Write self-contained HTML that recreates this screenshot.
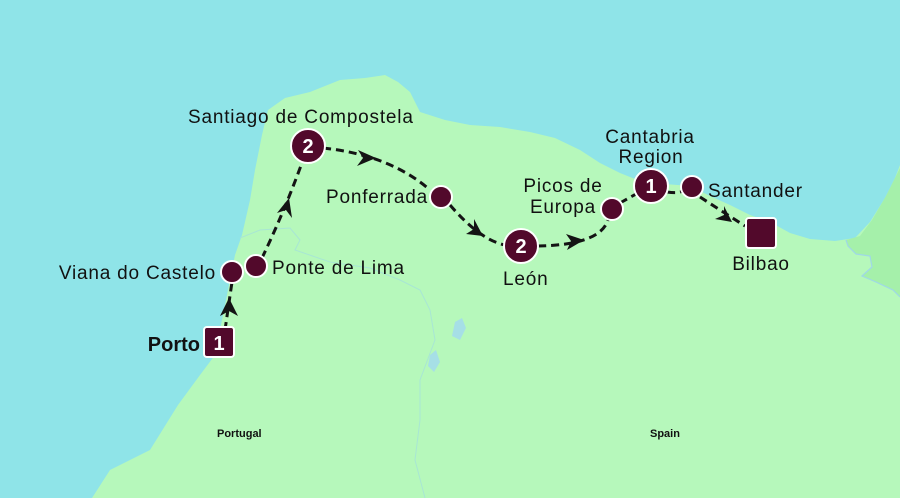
<!DOCTYPE html>
<html><head><meta charset="utf-8"><style>
html,body{margin:0;padding:0;width:900px;height:498px;overflow:hidden;background:#8fe4e8}
svg{display:block}
text{font-family:"Liberation Sans",sans-serif;fill:#111}
</style></head><body>
<svg width="900" height="498" viewBox="0 0 900 498" xmlns="http://www.w3.org/2000/svg">
<rect width="900" height="498" fill="#8fe4e8"/>
<path fill="#b6f8bb" d="M92 498 L110 470 L150 450 L178 405 L200 375 L215 355 L222 320 L228 290 L235 255 L242 235 L250 200 L255 170 L262 135 L268 110 L285 98 L310 92 L340 80 L365 78 L385 75 L398 82 L410 92 L420 112 L445 120 L470 125 L500 127 L530 132 L555 138 L580 150 L600 163 L620 173 L640 181 L665 184 L690 186 L710 196 L730 205 L750 215 L770 222 L790 233 L810 239 L835 241 L855 238 L870 222 L885 198 L895 178 L900 165 L900 498 Z"/>
<path fill="#a5f0aa" d="M846 240 L860 236 L872 220 L886 196 L900 168 L900 297 L893 290 L876 282 L862 276 L872 267 L870 256 L856 254 L848 246 Z"/>
<path fill="none" stroke="#9fd8e6" stroke-width="1.2" d="M846 240 L848 246 L856 254 L870 256 L872 267 L862 276 L876 282 L893 290 L900 297"/>
<path fill="none" stroke="#a8e6d4" stroke-width="1" d="M240 238 L260 230 L290 228 L300 240 L295 250 L330 262 L350 265 L370 268 L400 280 L420 290 L430 310 L435 340 L420 380 L420 420 L415 460 L425 498"/>
<path fill="#a6dfe6" d="M455 322 L462 318 L466 328 L460 340 L452 336 Z M430 355 L436 350 L440 362 L434 372 L428 366 Z"/>
<g fill="none" stroke="#141414" stroke-width="3" stroke-dasharray="8 5" stroke-linecap="butt">
<path d="M225 330 L232 282"/>
<path d="M262 258 Q285 210 303 160"/>
<path d="M323 148 Q390 155 430 190"/>
<path d="M450 205 Q480 240 505 245"/>
<path d="M538 246 Q600 245 608 220"/>
<path d="M620 203 L636 194"/>
<path d="M667 192 Q680 194 684 190"/>
<path d="M700 197 Q720 210 745 226"/>
</g>
<g fill="#141414">
<path d="M229 298 L220 316 L229 311 L238 316 Z"/>
<path d="M289 198 L277 213 L286 210 L292 218 Z"/>
<path d="M376 158 L358 150 L363 158 L357 166 Z"/>
<path d="M483 236 L474 219 L474 229 L466 234 Z"/>
<path d="M584 240 L566 234 L571 241 L567 250 Z"/>
<path d="M732 222 L724 206 L724 215 L715 219 Z"/>
</g>
<g fill="#52092b" stroke="#fff" stroke-width="2">
<rect x="204" y="327" width="30" height="30" rx="3"/>
<circle cx="232" cy="272" r="11"/>
<circle cx="256" cy="266" r="11"/>
<circle cx="308" cy="146" r="17"/>
<circle cx="441" cy="197" r="11"/>
<circle cx="521" cy="246" r="17"/>
<circle cx="612" cy="209" r="11"/>
<circle cx="651" cy="186" r="17"/>
<circle cx="692" cy="187" r="11"/>
<rect x="746" y="218" width="30" height="30" rx="3"/>
</g>
<g font-weight="bold" font-size="20" text-anchor="middle">
<text x="219" y="350" style="fill:#fff">1</text>
<text x="308" y="153" style="fill:#fff">2</text>
<text x="521" y="253" style="fill:#fff">2</text>
<text x="651" y="193" style="fill:#fff">1</text>
</g>
<g font-size="19" letter-spacing="0.8">
<text x="188" y="123">Santiago de Compostela</text>
<text x="428" y="203" text-anchor="end">Ponferrada</text>
<text x="216" y="279" text-anchor="end">Viana do Castelo</text>
<text x="272" y="274">Ponte de Lima</text>
<text x="200" y="351" text-anchor="end" font-weight="bold" font-size="20" letter-spacing="0">Porto</text>
<text x="503" y="285">León</text>
<text x="563" y="192" text-anchor="middle">Picos de</text>
<text x="563" y="213" text-anchor="middle">Europa</text>
<text x="650" y="143" text-anchor="middle">Cantabria</text>
<text x="651" y="163" text-anchor="middle">Region</text>
<text x="708" y="197">Santander</text>
<text x="761" y="270" text-anchor="middle">Bilbao</text>
<text x="217" y="437" font-size="11" font-weight="bold" letter-spacing="0">Portugal</text>
<text x="650" y="437" font-size="11" font-weight="bold" letter-spacing="0">Spain</text>
</g>
</svg>
</body></html>
